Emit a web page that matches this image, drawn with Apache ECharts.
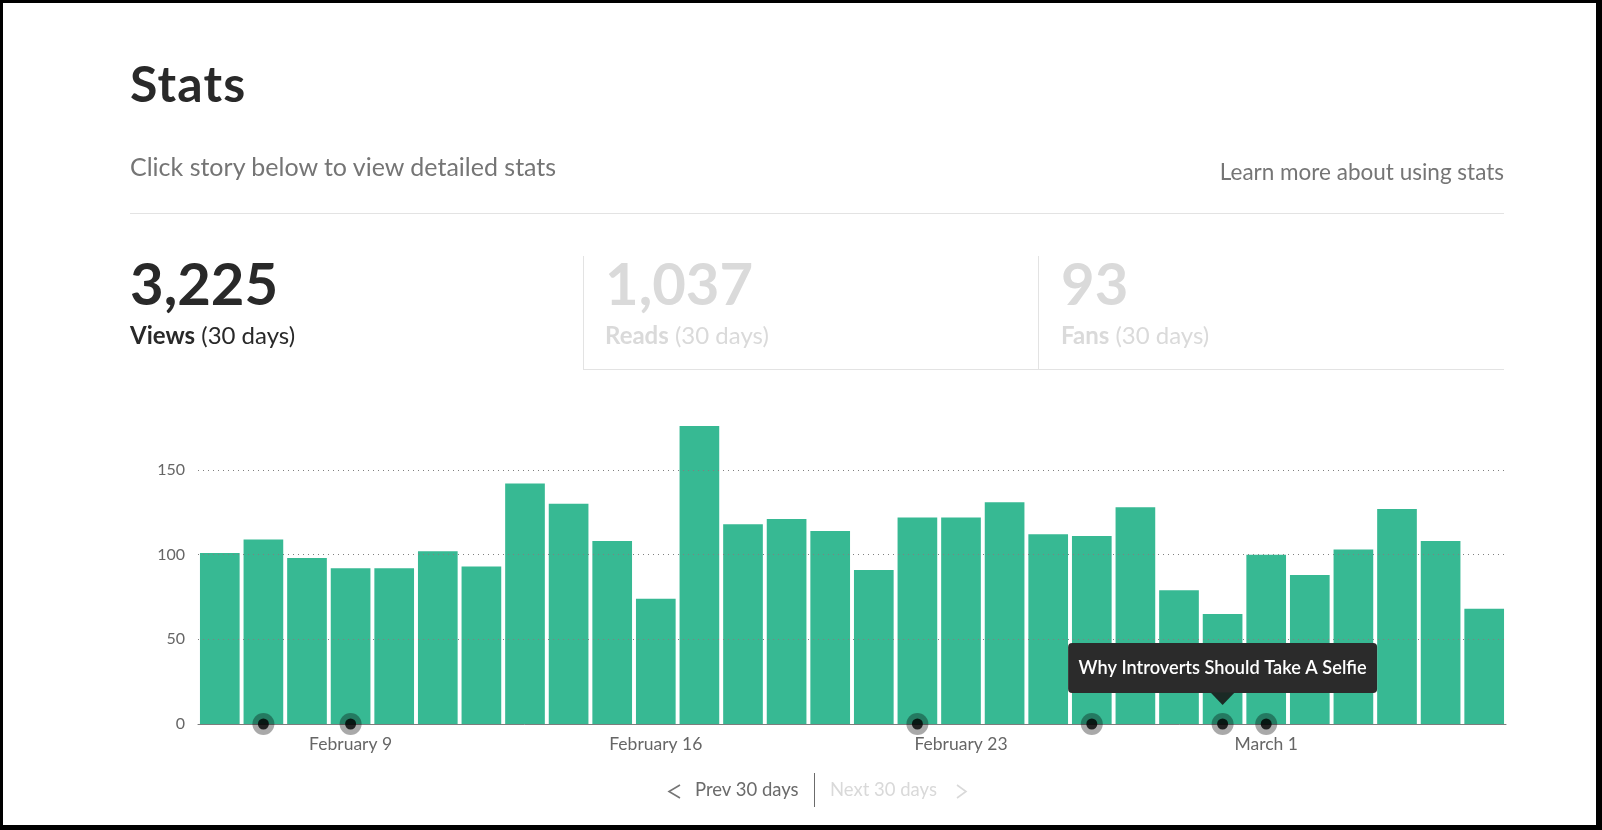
<!DOCTYPE html>
<html><head><meta charset="utf-8">
<script src="https://cdn.jsdelivr.net/npm/echarts@6/dist/echarts.min.js"></script>
<style>
html,body{margin:0;padding:0;width:1602px;height:830px;overflow:hidden;background:#000;}
#page{position:absolute;left:3px;top:3px;width:1593px;height:822px;background:#fff;}
#chart{position:absolute;left:0;top:0;width:1602px;height:830px;}
.t{position:absolute;white-space:nowrap;font-family:Lato,"Noto Sans",sans-serif;line-height:1;}
.hl{position:absolute;background:#e3e3e3;}
</style></head>
<body>
<div id="page"></div>
<div id="chart"></div>
<div class="t" style="left:130px;top:57.6px;font-size:50px;letter-spacing:1.2px;font-weight:700;color:#292929;">Stats</div>
<div class="t" style="left:130px;top:153.8px;font-size:25px;color:#757575;">Click story below to view detailed stats</div>
<div class="t" style="right:98px;top:161px;font-size:22.5px;color:#757575;">Learn more about using stats</div>
<div class="hl" style="left:130px;top:213px;width:1374px;height:1px;"></div>
<div id="stats"></div>
<div class="hl" style="left:583px;top:256px;width:1px;height:114px;"></div>
<div class="hl" style="left:1038px;top:256px;width:1px;height:114px;"></div>
<div class="hl" style="left:583px;top:369px;width:921px;height:1px;"></div>
<svg style="position:absolute;left:0;top:0;width:1602px;height:830px;pointer-events:none;">
  <polyline points="680,785 669,791.5 680,798" fill="none" stroke="#757575" stroke-width="1.6"/>
  <polyline points="957,785 966,791.5 957,798" fill="none" stroke="#d9d9d9" stroke-width="1.6"/>
</svg>
<div class="t" style="left:695px;top:779.6px;font-size:18.5px;color:#6b6b6b;">Prev 30 days</div>
<div style="position:absolute;left:814px;top:773px;width:1px;height:34px;background:#6b6b6b;"></div>
<div class="t" style="left:830px;top:779.6px;font-size:18.5px;color:#d9d9d9;">Next 30 days</div>
<script>
// ---- data ----
const statValues = ['3,225', '1,037', '93'];
const statLabels = ['Views', 'Reads', 'Fans'];
const statPeriod = '(30 days)';
const days = ['February 6','February 7','February 8','February 9','February 10','February 11','February 12',
  'February 13','February 14','February 15','February 16','February 17','February 18','February 19',
  'February 20','February 21','February 22','February 23','February 24','February 25','February 26',
  'February 27','February 28','February 29','March 1','March 2','March 3','March 4','March 5','March 6'];
const views = [101,109,98,92,92,102,93,142,130,108,74,176,118,121,114,91,122,122,131,112,111,128,79,65,100,88,103,127,108,68];
const storyDays = ['February 7','February 9','February 22','February 26','February 29','March 1'];
const tooltipDay = 'February 29';
const tooltipTitle = 'Why Introverts Should Take A Selfie';
const yTicks = [0, 50, 100, 150];

// ---- header stats ----
const statX = [130, 605, 1061];
let html = '';
statValues.forEach((v, i) => {
  const c = i === 0 ? '#292929' : '#dadada';
  html += `<div class="t" style="left:${statX[i]}px;top:253.6px;font-size:58px;font-weight:700;color:${c};">${v}</div>`;
  html += `<div class="t" style="left:${statX[i]}px;top:322.7px;font-size:24px;color:${c};"><b>${statLabels[i]}</b> ${statPeriod}</div>`;
});
document.getElementById('stats').innerHTML = html;

// ---- chart ----
const chart = echarts.init(document.getElementById('chart'));
const labelIdx = new Set(days.map((d, i) => i).filter(i => i % 7 === 3));
chart.setOption({
  animation: false,
  grid: { left: 198, right: 96, top: 419.2, bottom: 106 },
  xAxis: {
    type: 'category', data: days, z: 3,
    axisLine: { lineStyle: { color: '#7d7d7d', width: 1 } },
    axisTick: { show: false },
    axisLabel: {
      interval: (i) => labelIdx.has(i), color: '#666', fontSize: 17.5,
      fontFamily: 'Lato', margin: 11
    }
  },
  yAxis: {
    type: 'value', min: 0, max: 180, interval: 50, z: 3,
    axisLine: { show: false }, axisTick: { show: false },
    axisLabel: {
      color: '#666', fontSize: 16, fontFamily: 'Lato', margin: 13, showMaxLabel: false,
      formatter: (v) => yTicks.includes(v) ? String(v) : ''
    },
    splitLine: { show: true, showMinLine: false, showMaxLine: false,
      lineStyle: { color: '#808080', type: [1, 4], width: 1 } }
  },
  series: [
    { type: 'bar', data: views, barCategoryGap: '9%', itemStyle: { color: '#37b993' }, z: 2 },
    { type: 'scatter', data: storyDays.map(d => [d, 0]), symbolSize: 22, z: 5,
      itemStyle: { color: 'rgba(0,0,0,0.42)' } },
    { type: 'scatter', data: storyDays.map(d => [d, 0]), symbolSize: 11, z: 6,
      itemStyle: { color: '#000' } }
  ]
});
const p = chart.convertToPixel({ seriesIndex: 0 }, [tooltipDay, 0]);
const bw = 309, bh = 50;
chart.setOption({
  graphic: [
    { type: 'rect', z: 100, shape: { x: p[0] - bw / 2, y: p[1] - 81, width: bw, height: bh, r: 4 },
      style: { fill: '#2b2b2b' } },
    { type: 'polygon', z: 100, shape: { points: [[p[0] - 12, p[1] - 31.5], [p[0] + 12, p[1] - 31.5], [p[0], p[1] - 19]] },
      style: { fill: '#1b2a25' } },
    { type: 'text', z: 101, x: p[0], y: p[1] - 56,
      style: { text: tooltipTitle, fill: '#fff', font: '600 18.2px Lato', align: 'center', verticalAlign: 'middle' } }
  ]
});
</script>
</body></html>
